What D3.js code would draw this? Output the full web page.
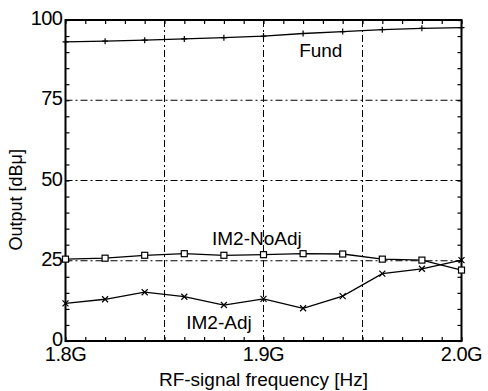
<!DOCTYPE html>
<html>
<head>
<meta charset="utf-8">
<script src="https://cdn.jsdelivr.net/npm/d3@7"></script>
<style>
  body { margin: 0; background: #fff; }
  svg text { font-family: "Liberation Sans", Arial, sans-serif; fill: #000; }
</style>
</head>
<body>
<div id="chart"></div>
<script>
const freqs = [1.80, 1.82, 1.84, 1.86, 1.88, 1.90, 1.92, 1.94, 1.96, 1.98, 2.00];
const fund = [93.2, 93.4, 93.7, 94.1, 94.5, 95.0, 95.8, 96.4, 97.0, 97.4, 97.6];
const im2NoAdj = [25.5, 25.8, 26.7, 27.2, 26.7, 26.9, 27.2, 27.1, 25.5, 25.2, 22.1];
const im2Adj = [11.7, 13.0, 15.2, 13.8, 11.2, 13.1, 10.2, 14.0, 21.0, 22.5, 25.2];
const xTicks = [1.8, 1.9, 2.0];
const xTickLabels = ["1.8G", "1.9G", "2.0G"];
const yTicks = [0, 25, 50, 75, 100];
const xGrid = [1.85, 1.9, 1.95];
const yGrid = [25, 50, 75];

const width = 488, height = 391;
const margin = { top: 20, right: 26.5, bottom: 50, left: 65.5 };
const w = width - margin.left - margin.right;
const h = height - margin.top - margin.bottom;

const svg = d3.select("#chart").append("svg")
    .attr("width", width)
    .attr("height", height);

const g = svg.append("g")
    .attr("transform", `translate(${margin.left}, ${margin.top})`);

const x = d3.scaleLinear().domain([1.8, 2.0]).range([0, w]);
const y = d3.scaleLinear().domain([0, 100]).range([h, 0]);

// grid, dash-dot
const dash = "7,3,2,3";
g.selectAll(".vgrid").data(xGrid).enter().append("line")
    .attr("x1", d => x(d)).attr("x2", d => x(d))
    .attr("y1", 0).attr("y2", h)
    .attr("stroke", "#000").attr("stroke-width", 1)
    .attr("stroke-dasharray", dash);
g.selectAll(".hgrid").data(yGrid).enter().append("line")
    .attr("x1", 0).attr("x2", w)
    .attr("y1", d => y(d)).attr("y2", d => y(d))
    .attr("stroke", "#000").attr("stroke-width", 1)
    .attr("stroke-dasharray", dash);

// minor ticks on all four sides, pointing inward
const minorX = d3.range(0, 21).map(i => 1.8 + i * 0.01);
const minorY = d3.range(0, 21).map(i => i * 5);
const tickLen = 4;

g.append("g")
    .attr("transform", `translate(0, ${h})`)
    .call(d3.axisBottom(x).tickValues(minorX).tickSize(-tickLen).tickFormat(""))
    .call(a => a.select(".domain").remove());
g.append("g")
    .call(d3.axisTop(x).tickValues(minorX).tickSize(-tickLen).tickFormat(""))
    .call(a => a.select(".domain").remove());
g.append("g")
    .call(d3.axisLeft(y).tickValues(minorY).tickSize(-tickLen).tickFormat(""))
    .call(a => a.select(".domain").remove());
g.append("g")
    .attr("transform", `translate(${w}, 0)`)
    .call(d3.axisRight(y).tickValues(minorY).tickSize(-tickLen).tickFormat(""))
    .call(a => a.select(".domain").remove());
g.selectAll(".tick line").attr("stroke-width", 1.2);

// frame
g.append("rect")
    .attr("x", 0).attr("y", 0)
    .attr("width", w).attr("height", h)
    .attr("fill", "none")
    .attr("stroke", "#000")
    .attr("stroke-width", 2);

// tick labels
g.selectAll(".xlab").data(xTicks).enter().append("text")
    .attr("x", d => x(d))
    .attr("y", h + 20)
    .attr("text-anchor", "middle")
    .attr("font-size", "20px")
    .attr("letter-spacing", "-0.5")
    .text((d, i) => xTickLabels[i]);
g.selectAll(".ylab").data(yTicks).enter().append("text")
    .attr("x", -3)
    .attr("y", d => y(d) + 5)
    .attr("text-anchor", "end")
    .attr("font-size", "20px")
    .attr("letter-spacing", "-0.5")
    .text(d => d);

// axis titles
g.append("text")
    .attr("x", w / 2)
    .attr("y", h + 45)
    .attr("text-anchor", "middle")
    .attr("font-size", "19px")
    .text("RF-signal frequency [Hz]");
g.append("text")
    .attr("transform", `translate(${-44}, ${y(44)}) rotate(-90)`)
    .attr("text-anchor", "middle")
    .attr("font-size", "18px")
    .text("Output [dBμ]");

// series
const line = d3.line()
    .x((d, i) => x(freqs[i]))
    .y(d => y(d));

[fund, im2NoAdj, im2Adj].forEach(s => {
    g.append("path")
        .datum(s)
        .attr("fill", "none")
        .attr("stroke", "#000")
        .attr("stroke-width", 1.3)
        .attr("d", line);
});

// markers
g.selectAll(".plus").data(fund).enter().append("path")
    .attr("transform", (d, i) => `translate(${x(freqs[i])}, ${y(d)})`)
    .attr("d", "M-3,0H3M0,-3V3")
    .attr("stroke", "#000").attr("stroke-width", 1.2);
g.selectAll(".sq").data(im2NoAdj).enter().append("rect")
    .attr("x", (d, i) => x(freqs[i]) - 3)
    .attr("y", d => y(d) - 3)
    .attr("width", 6).attr("height", 6)
    .attr("fill", "#fff")
    .attr("stroke", "#000").attr("stroke-width", 1.2);
g.selectAll(".cross").data(im2Adj).enter().append("path")
    .attr("transform", (d, i) => `translate(${x(freqs[i])}, ${y(d)})`)
    .attr("d", "M-3,-3L3,3M-3,3L3,-3")
    .attr("stroke", "#000").attr("stroke-width", 1.2);

// series labels
g.append("text")
    .attr("x", x(1.918)).attr("y", y(88.5))
    .attr("font-size", "19px")
    .text("Fund");
g.append("text")
    .attr("x", x(1.874)).attr("y", y(30))
    .attr("font-size", "19px")
    .text("IM2-NoAdj");
g.append("text")
    .attr("x", x(1.861)).attr("y", y(3.8))
    .attr("font-size", "19px")
    .text("IM2-Adj");
</script>
</body>
</html>
